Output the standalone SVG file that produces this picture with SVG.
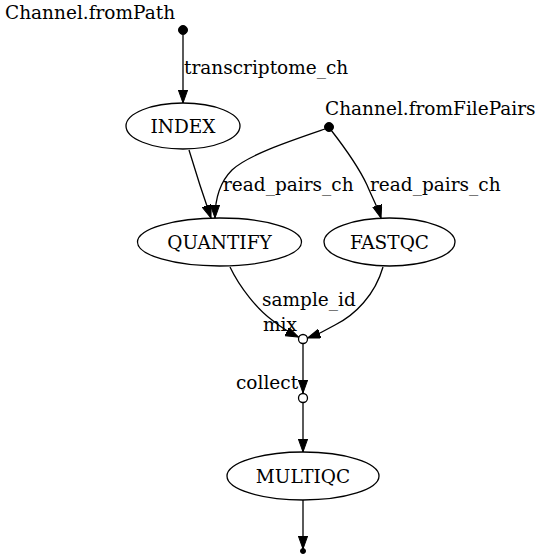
<svg xmlns="http://www.w3.org/2000/svg" width="543" height="560" viewBox="0 0 543 560">
<defs>
<marker id="arr" markerUnits="userSpaceOnUse" markerWidth="14" markerHeight="10" refX="13" refY="4.65" orient="auto">
<path d="M0,0 L13,4.65 L0,9.3 Z" fill="#000" stroke="#000" stroke-width="1"/>
</marker>
<style>
text{font-family:"DejaVu Serif","Liberation Serif",serif;font-size:18.5px;fill:#000}
.n{text-anchor:middle}
ellipse{fill:none;stroke:#000;stroke-width:1.3}
.e path{fill:none;stroke:#000;stroke-width:1.3;marker-end:url(#arr)}
.dot{fill:#000;stroke:#000}
.op{fill:#fff;stroke:#000;stroke-width:1.3}
</style>
</defs>
<rect width="543" height="560" fill="#fff"/>
<g id="connectors" class="e">
<path d="M183,35 L183,103"/>
<path d="M189,150 C195,170 203,195 211,218"/>
<path d="M325,129 C290,141 248,155 232,170 C219,183 215,200 215,218"/>
<path d="M331,130 C345,148 360,170 367,185 C372,197 378,208 381,218"/>
<path d="M230,267 C240,288 258,310 272,320 C282,328 290,333 298.5,337"/>
<path d="M383,267 C375,295 355,315 335,325 C325,331 316,335 307.5,338"/>
<path d="M303,344 L303,393"/>
<path d="M303,402 L303,452"/>
<path d="M303,500 L303,549"/>
<text x="184" y="74">transcriptome_ch</text>
<text x="223" y="191">read_pairs_ch</text>
<text x="370" y="191">read_pairs_ch</text>
<text x="262" y="306">sample_id</text>
</g>
<g id="fromPath"><circle class="dot" cx="183" cy="30" r="4.5"/><text x="5" y="19">Channel.fromPath</text></g>
<g id="fromFilePairs"><circle class="dot" cx="329" cy="127" r="4.5"/><text x="325" y="115">Channel.fromFilePairs</text></g>
<g id="INDEX"><ellipse cx="183" cy="126" rx="57" ry="23"/><text class="n" x="183" y="133">INDEX</text></g>
<g id="QUANTIFY"><ellipse cx="219.5" cy="242" rx="82" ry="24"/><text class="n" x="219.5" y="249">QUANTIFY</text></g>
<g id="FASTQC"><ellipse cx="389.5" cy="242" rx="65.5" ry="24"/><text class="n" x="389.5" y="249">FASTQC</text></g>
<g id="mix"><circle class="op" cx="303" cy="339" r="4.5"/><text x="263" y="331">mix</text></g>
<g id="collect"><circle class="op" cx="303" cy="398" r="4.5"/><text x="236" y="389">collect</text></g>
<g id="MULTIQC"><ellipse cx="303" cy="476" rx="76" ry="24"/><text class="n" x="303" y="483">MULTIQC</text></g>
<g id="end"><circle class="dot" cx="303" cy="551" r="2.5"/></g>
</svg>
